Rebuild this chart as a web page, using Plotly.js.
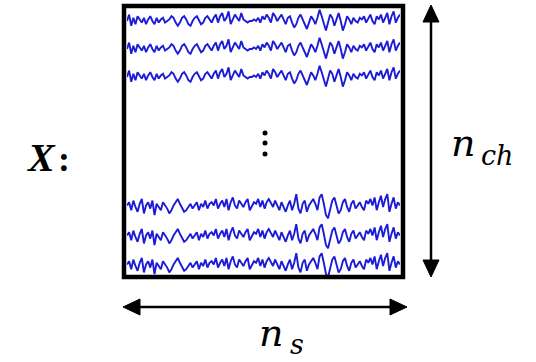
<!DOCTYPE html>
<html>
<head>
<meta charset="utf-8">
<script src="https://cdn.plot.ly/plotly-3.0.1.min.js"></script>
<style>html,body{margin:0;padding:0;background:#fff;}#chart{width:536px;height:362px;}</style>
</head>
<body>
<div id="chart"></div>
<script>
// EEG-like waveform read from the upper three channels (relative amplitude, up = positive)
var signalTop = [0, 4, -3, 2, -2, 3, 1, -1, 2, -2, 1, 3, 0, -2, 2, -1, 1, 2, -1, 0,
  1, 3, 2, -1, -3, -1, 2, 3, 1, -2, -3, 0, 2, 3, 0, -2, -1, 2, 3, 1,
  -1, 2, 4, -1, 3, 5, 0, 2, 6, -2, 1, 4, 2, 0, 5,
  1, 0, -1, 0, 0, 1, 0,
  2, -1, 3, 1, 4, 2, -1, 5, 3, 0, 2, 4, 1, -2, 2, 3,
  -1, -4, -2, 2, 4, 1, -3, -5, -1, 3, 1, -2,
  2, 7, 3, -2, -6, -1, 4, 2, -3, 1,
  5, 0, -6, -2, 3, 1, -2, 2, 0, -1, 2, 1,
  3, -1, 2, 4, 0, -2, 3, 1, 4, -1, 2, 5, -2, 3, 6, -1, 2, 4];
// waveform of the lower three channels
var signalBottom = [1, 3, -2, 4, 0, -3, 2, 5, -4, 1, 3, -1, 4, -5, 2, 0, -2, 3, 1, -1,
  -4, -2, 1, 3, 5, 2, -1, -3, -2, 0,
  2, -1, 1, 3, -2, 2, 0, 4, -1, 2, 3, 1, 5, -1, 2,
  4, 0, 5, -2, 3, 6, 1, -1, 4, 2, 0, 3, 5, -2, 1,
  3, 2, 5, 0, 4, -1, 3, 5, 2, 0, 4, 1, -2, 3, 0, -3, 1, 4, -2, 2,
  8, -1, -4, 2, 4, -3, 1, 3, 5, 2,
  -2, 6, 8, 2, -5, -7, -2, 4, 6, 1, -4, -2, 3, 5, 0,
  -3, 2, 4, -1, 1, 3, 0, -2, 4, 2, 5, 1, 6, -2, 3, 7, 0, 5, 8, -3, 2, 6, -1, 3, 1];
var channelSignals = [signalTop, signalTop, signalTop, signalBottom, signalBottom, signalBottom];
var labels = {matrix: "X", channels: "n", channelsSub: "ch", samples: "n", samplesSub: "s"};

// layout constants (pixel space)
var W = 536, H = 362;
var box = {x0: 124, x1: 403, y0: 6, y1: 277};
var inner = {x0: 127, x1: 400};
var baselines = [21, 49, 77, 207, 237, 266];
var gain = 1.6;

var traces = channelSignals.map(function (sig, k) {
  var xs = sig.map(function (_, i) { return i; });
  var ys = sig.map(function (v) { return baselines[k] - gain * v; });
  return {x: xs, y: ys, xaxis: 'x2', yaxis: 'y2', type: 'scatter', mode: 'lines',
    line: {color: '#1c1cd6', width: 1.9}, hoverinfo: 'skip', showlegend: false};
});

var n = Math.max(signalTop.length, signalBottom.length);
var serif = 'Liberation Serif';
var mathSerif = 'DejaVu Serif';
var black = '#000';

var shapes = [
  {type: 'rect', xref: 'x', yref: 'y', x0: box.x0, x1: box.x1, y0: box.y0, y1: box.y1,
   line: {color: black, width: 4.5}, fillcolor: 'rgba(0,0,0,0)', layer: 'above'},
  // vertical arrow
  {type: 'line', xref: 'x', yref: 'y', x0: 431, x1: 431, y0: 20, y1: 263, line: {color: black, width: 2.5}},
  {type: 'path', xref: 'x', yref: 'y', path: 'M431,5 L423,22 L439,22 Z', fillcolor: black, line: {color: black, width: 1}},
  {type: 'path', xref: 'x', yref: 'y', path: 'M431,277 L423,260 L439,260 Z', fillcolor: black, line: {color: black, width: 1}},
  // horizontal arrow
  {type: 'line', xref: 'x', yref: 'y', x0: 137, x1: 393, y0: 307, y1: 307, line: {color: black, width: 2.5}},
  {type: 'path', xref: 'x', yref: 'y', path: 'M123,307 L140,299 L140,315 Z', fillcolor: black, line: {color: black, width: 1}},
  {type: 'path', xref: 'x', yref: 'y', path: 'M407,307 L390,299 L390,315 Z', fillcolor: black, line: {color: black, width: 1}}
];
// vertical ellipsis dots
[133, 143, 154].forEach(function (y) {
  shapes.push({type: 'circle', xref: 'x', yref: 'y', x0: 262.5, x1: 267.5, y0: y - 2.5, y1: y + 2.5,
    fillcolor: black, line: {width: 0}});
});

var annotations = [
  {xref: 'x', yref: 'y', x: 41, y: 157, text: '<b><i>' + labels.matrix + '</i></b>', showarrow: false,
   font: {family: serif, size: 40, color: black}, xanchor: 'center', yanchor: 'middle'},
  {xref: 'x', yref: 'y', x: 64, y: 159, text: '<b>:</b>', showarrow: false,
   font: {family: serif, size: 36, color: black}, xanchor: 'center', yanchor: 'middle'},
  {xref: 'x', yref: 'y', x: 463, y: 143, text: '<i>' + labels.channels + '</i>', showarrow: false,
   font: {family: mathSerif, size: 38, color: black}, xanchor: 'center', yanchor: 'middle'},
  {xref: 'x', yref: 'y', x: 497, y: 155, text: '<i>' + labels.channelsSub + '</i>', showarrow: false,
   font: {family: mathSerif, size: 27, color: black}, xanchor: 'center', yanchor: 'middle'},
  {xref: 'x', yref: 'y', x: 271, y: 333, text: '<i>' + labels.samples + '</i>', showarrow: false,
   font: {family: mathSerif, size: 38, color: black}, xanchor: 'center', yanchor: 'middle'},
  {xref: 'x', yref: 'y', x: 297, y: 344, text: '<i>' + labels.samplesSub + '</i>', showarrow: false,
   font: {family: mathSerif, size: 27, color: black}, xanchor: 'center', yanchor: 'middle'}
];

var hidden = {visible: false, showgrid: false, zeroline: false, fixedrange: true};
var layout = {
  width: W, height: H, margin: {l: 0, r: 0, t: 0, b: 0, pad: 0},
  paper_bgcolor: '#fff', plot_bgcolor: 'rgba(0,0,0,0)', showlegend: false,
  xaxis: Object.assign({range: [0, W], domain: [0, 1]}, hidden),
  yaxis: Object.assign({range: [H, 0], domain: [0, 1]}, hidden),
  xaxis2: Object.assign({range: [0, n - 1], domain: [inner.x0 / W, inner.x1 / W], anchor: 'y2'}, hidden),
  yaxis2: Object.assign({range: [H, 0], domain: [0, 1], anchor: 'x2', overlaying: 'y'}, hidden),
  shapes: shapes, annotations: annotations
};
Plotly.newPlot('chart', traces, layout, {staticPlot: true, displayModeBar: false});
</script>
</body>
</html>
